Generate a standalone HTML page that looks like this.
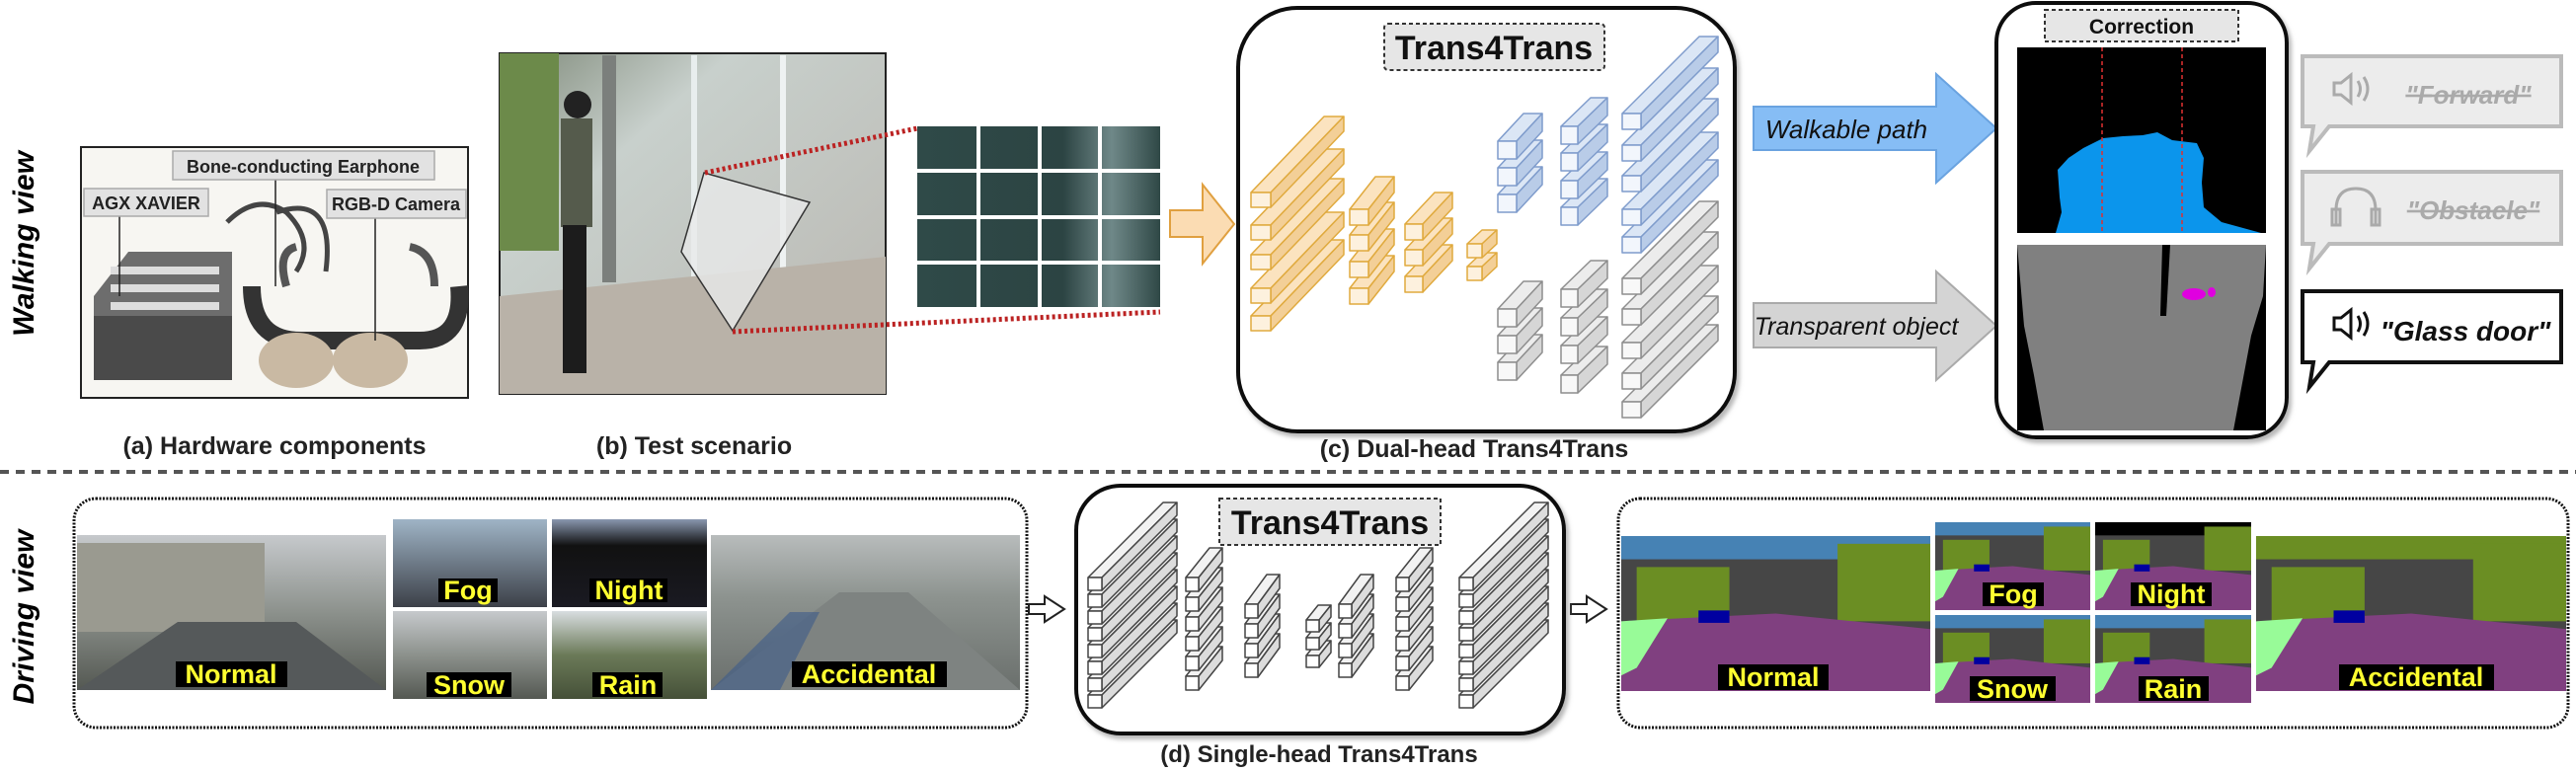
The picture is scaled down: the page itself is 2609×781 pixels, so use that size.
<!DOCTYPE html>
<html><head><meta charset="utf-8"><style>
html,body{margin:0;padding:0;background:#fff;}
svg{display:block;font-family:"Liberation Sans",sans-serif;}
</style></head><body>
<svg id="s" width="2609" height="781" viewBox="0 0 2609 781" xmlns="http://www.w3.org/2000/svg">
<defs>
<linearGradient id="gb" x1="0" y1="0" x2="1" y2="1"><stop offset="0" stop-color="#7f8a7a"/><stop offset="0.3" stop-color="#c8d0cc"/><stop offset="1" stop-color="#b9b6b0"/></linearGradient>
<linearGradient id="grid" x1="0" y1="0" x2="1" y2="0"><stop offset="0" stop-color="#2f4a48"/><stop offset="0.6" stop-color="#2c4443"/><stop offset="0.8" stop-color="#6f8888"/><stop offset="1" stop-color="#2f4846"/></linearGradient>
<linearGradient id="sky" x1="0" y1="0" x2="0" y2="1"><stop offset="0" stop-color="#c6c9cc"/><stop offset="0.5" stop-color="#8c918c"/><stop offset="1" stop-color="#545852"/></linearGradient>
<linearGradient id="nig" x1="0" y1="0" x2="0" y2="1"><stop offset="0" stop-color="#8a98b0"/><stop offset="0.3" stop-color="#111"/><stop offset="1" stop-color="#1a1a22"/></linearGradient>
<linearGradient id="fog" x1="0" y1="0" x2="0" y2="1"><stop offset="0" stop-color="#9fb4c6"/><stop offset="1" stop-color="#3c4048"/></linearGradient>
<linearGradient id="rain" x1="0" y1="0" x2="0" y2="1"><stop offset="0" stop-color="#d8dde0"/><stop offset="0.5" stop-color="#6b7a58"/><stop offset="1" stop-color="#455038"/></linearGradient>
<linearGradient id="acc" x1="0" y1="0" x2="0" y2="1"><stop offset="0" stop-color="#b8bcbc"/><stop offset="0.4" stop-color="#8d938f"/><stop offset="1" stop-color="#6a6f6c"/></linearGradient>
<filter id="sh"><feDropShadow dx="3" dy="4" stdDeviation="2" flood-color="#888" flood-opacity="0.6"/></filter>
</defs>

<text transform="translate(34,247) rotate(-90)" text-anchor="middle" font-size="30" font-weight="bold" font-style="italic">Walking view</text>
<text transform="translate(34,625) rotate(-90)" text-anchor="middle" font-size="30" font-weight="bold" font-style="italic">Driving view</text>

<!-- (a) hardware -->
<rect x="82" y="149" width="392" height="254" fill="#f7f6f2" stroke="#222" stroke-width="2"/>
<path d="M230 225 q30-30 60-10 q30 30 10 60" fill="none" stroke="#444" stroke-width="5"/>
<path d="M280 215 q60-20 50 60" fill="none" stroke="#444" stroke-width="5"/>
<polygon points="130,255 235,255 235,370 95,385 95,300" fill="#6d6d6d"/>
<rect x="95" y="320" width="140" height="65" fill="#4a4a4a"/>
<rect x="112" y="270" width="110" height="8" fill="#ddd"/><rect x="112" y="288" width="110" height="8" fill="#ddd"/><rect x="112" y="306" width="110" height="8" fill="#ddd"/>
<path d="M255 290 q0 55 50 55 h120 q45 0 40-55" fill="none" stroke="#333" stroke-width="18"/>
<ellipse cx="300" cy="365" rx="38" ry="28" fill="#c9b9a3"/><ellipse cx="375" cy="365" rx="38" ry="28" fill="#c9b9a3"/>
<path d="M290 290 q-10-35 10-40" fill="none" stroke="#555" stroke-width="8"/><path d="M440 290 q0-35 -25-40" fill="none" stroke="#555" stroke-width="8"/>
<line x1="121" y1="219" x2="121" y2="300" stroke="#222" stroke-width="1.5"/>
<line x1="279" y1="182" x2="279" y2="290" stroke="#222" stroke-width="1.5"/>
<line x1="380" y1="221" x2="380" y2="345" stroke="#222" stroke-width="1.5"/>
<rect x="175" y="153" width="265" height="29" fill="#e2e2e2" stroke="#aaa" stroke-width="1.5"/>
<text x="307" y="175" text-anchor="middle" font-size="18" font-weight="bold" fill="#222">Bone-conducting Earphone</text>
<rect x="85" y="191" width="126" height="28" fill="#e2e2e2" stroke="#aaa" stroke-width="1.5"/>
<text x="148" y="212" text-anchor="middle" font-size="18" font-weight="bold" fill="#222">AGX XAVIER</text>
<rect x="331" y="192" width="141" height="29" fill="#e2e2e2" stroke="#aaa" stroke-width="1.5"/>
<text x="401" y="213" text-anchor="middle" font-size="18" font-weight="bold" fill="#222">RGB-D Camera</text>
<text x="278" y="460" text-anchor="middle" font-size="25" font-weight="bold" fill="#222">(a) Hardware components</text>

<!-- (b) test scenario -->
<rect x="506" y="54" width="391" height="345" fill="url(#gb)" stroke="#222" stroke-width="2"/>
<rect x="506" y="54" width="60" height="200" fill="#6c8a4a"/>
<rect x="610" y="56" width="14" height="230" fill="#7b7f7c"/>
<rect x="700" y="56" width="6" height="340" fill="#e8eeee"/><rect x="790" y="56" width="6" height="340" fill="#eef2f2"/>
<polygon points="506,300 897,260 897,399 506,399" fill="#b9b2a8"/>
<circle cx="585" cy="106" r="14" fill="#222"/>
<rect x="568" y="120" width="32" height="110" fill="#555b4c"/>
<rect x="570" y="228" width="24" height="150" fill="#1c1c1c"/>
<polygon points="713,175 820,205 742,335 690,255" fill="#e8eaea" fill-opacity="0.8" stroke="#333" stroke-width="1.5"/>
<line x1="714" y1="175" x2="929" y2="130" stroke="#b22" stroke-width="5" stroke-dasharray="3,3"/>
<line x1="742" y1="336" x2="1175" y2="316" stroke="#b22" stroke-width="5" stroke-dasharray="3,3"/>
<text x="703" y="460" text-anchor="middle" font-size="25" font-weight="bold" fill="#222">(b) Test scenario</text>

<rect x="929" y="128" width="246" height="183" fill="url(#grid)"/>
<g stroke="#fff" stroke-width="4">
<line x1="991" y1="128" x2="991" y2="311"/><line x1="1053" y1="128" x2="1053" y2="311"/><line x1="1114" y1="128" x2="1114" y2="311"/>
<line x1="929" y1="173" x2="1175" y2="173"/><line x1="929" y1="220" x2="1175" y2="220"/><line x1="929" y1="266" x2="1175" y2="266"/>
</g>
<polygon points="1185,213 1218,213 1218,187 1250,227 1218,267 1218,240 1185,240" fill="#fbdcb3" stroke="#e0a040" stroke-width="2"/>

<!-- (c) box -->
<rect x="1254" y="8" width="503" height="429" rx="60" fill="#fff" stroke="#111" stroke-width="4" filter="url(#sh)"/>
<rect x="1402" y="24" width="223" height="47" rx="4" fill="#e6e6e6" stroke="#333" stroke-width="2" stroke-dasharray="4,3"/>
<text x="1513" y="60" text-anchor="middle" font-size="34" font-weight="bold" fill="#111">Trans4Trans</text>
<g id="barsC"></g>
<text x="1493" y="463" text-anchor="middle" font-size="25" font-weight="bold" fill="#222">(c) Dual-head Trans4Trans</text>

<polygon points="1776,108 1961,108 1961,75 2022,130 1961,185 1961,152 1776,152" fill="#86bdf5" stroke="#6aa3e0" stroke-width="2"/>
<text x="1870" y="140" text-anchor="middle" font-size="26" font-style="italic" fill="#111">Walkable path</text>
<polygon points="1776,307 1961,307 1961,275 2022,330 1961,385 1961,352 1776,352" fill="#d4d4d4" stroke="#aaa" stroke-width="2"/>
<text x="1880" y="339" text-anchor="middle" font-size="25" font-style="italic" fill="#111">Transparent object</text>

<!-- correction box -->
<rect x="2022" y="3" width="294" height="440" rx="40" fill="#fff" stroke="#111" stroke-width="4" filter="url(#sh)"/>
<rect x="2071" y="10" width="196" height="32" fill="#e6e6e6" stroke="#333" stroke-width="2" stroke-dasharray="4,3"/>
<text x="2169" y="34" text-anchor="middle" font-size="21" font-weight="bold" fill="#111">Correction</text>
<rect x="2043" y="48" width="252" height="188" fill="#000"/>
<path d="M2082 236 L2088 215 2086 200 2084 172 2095 160 2110 150 2130 140 2150 138 2170 137 2185 134 2200 142 2225 145 2232 160 2230 185 2232 210 2250 225 2290 236 Z" fill="#0b95ec"/>
<line x1="2129" y1="48" x2="2129" y2="236" stroke="#e03030" stroke-width="1.5" stroke-dasharray="4,3"/>
<line x1="2210" y1="48" x2="2210" y2="236" stroke="#e03030" stroke-width="1.5" stroke-dasharray="4,3"/>
<rect x="2043" y="248" width="252" height="188" fill="#000"/>
<polygon points="2043,248 2295,248 2292,300 2280,340 2262,436 2070,436 2060,380 2050,330" fill="#808080"/>
<polygon points="2190,248 2198,248 2194,320 2188,320" fill="#000"/>
<ellipse cx="2222" cy="298" rx="12" ry="6" fill="#e000e0"/>
<ellipse cx="2240" cy="296" rx="4" ry="5" fill="#e000e0"/>
<g fill="#ececec" stroke="#bbb" stroke-width="4">
<path d="M2332 57 h262 v71 h-235 l-20 25 l4 -25 h-11 z"/>
<path d="M2332 174 h262 v73 h-235 l-20 25 l4 -25 h-11 z"/>
</g>
<path d="M2332 295 h262 v72 h-235 l-20 25 l4 -25 h-11 z" fill="#fff" stroke="#111" stroke-width="4"/>
<g fill="none" stroke="#aaa" stroke-width="3"><path d="M2364 84 h7 l10 -8 v28 l-10 -8 h-7 z M2388 82 q5 8 0 16 M2394 78 q8 12 0 24"/></g>
<text x="2500" y="105" text-anchor="middle" font-size="26" font-weight="bold" font-style="italic" fill="#aaa" text-decoration="line-through">"Forward"</text>
<g fill="none" stroke="#aaa" stroke-width="3"><path d="M2366 228 v-15 q0-22 20-22 q20 0 20 22 v15 M2362 212 h8 v16 h-8 z M2402 212 h8 v16 h-8 z"/></g>
<text x="2505" y="222" text-anchor="middle" font-size="26" font-weight="bold" font-style="italic" fill="#aaa" text-decoration="line-through">"Obstacle"</text>
<g fill="none" stroke="#111" stroke-width="3"><path d="M2364 322 h7 l10 -8 v28 l-10 -8 h-7 z M2388 320 q5 8 0 16 M2394 316 q8 12 0 24"/></g>
<text x="2497" y="345" text-anchor="middle" font-size="28" font-weight="bold" font-style="italic" fill="#111">"Glass door"</text>

<line x1="0" y1="478" x2="2609" y2="478" stroke="#555" stroke-width="4" stroke-dasharray="9,7"/>

<rect x="75" y="505" width="965" height="232" rx="22" fill="none" stroke="#111" stroke-width="3" stroke-dasharray="2,1.5"/>
<rect x="78" y="542" width="313" height="157" fill="url(#sky)"/>
<rect x="78" y="550" width="190" height="90" fill="#9a9a90"/>
<polygon points="78,699 391,699 300,630 180,630" fill="#55595a"/>
<rect x="398" y="526" width="156" height="89" fill="url(#fog)"/>
<rect x="559" y="526" width="157" height="89" fill="url(#nig)"/>
<rect x="398" y="619" width="156" height="89" fill="url(#sky)"/>
<rect x="559" y="619" width="157" height="89" fill="url(#rain)"/>
<rect x="720" y="542" width="313" height="157" fill="url(#acc)"/>
<polygon points="720,699 1033,699 920,600 850,600" fill="#7e8381"/>
<polygon points="720,699 790,699 830,620 800,620" fill="#3d5c8a" opacity="0.6"/>
<g font-size="27" font-weight="bold" fill="#ffff30" text-anchor="middle">
<rect x="178" y="670" width="113" height="26" fill="#000"/><text x="234" y="692">Normal</text>
<rect x="444" y="586" width="60" height="24" fill="#000"/><text x="474" y="607">Fog</text>
<rect x="597" y="586" width="79" height="24" fill="#000"/><text x="637" y="607">Night</text>
<rect x="432" y="681" width="86" height="25" fill="#000"/><text x="475" y="703">Snow</text>
<rect x="600" y="681" width="71" height="25" fill="#000"/><text x="636" y="703">Rain</text>
<rect x="802" y="670" width="157" height="26" fill="#000"/><text x="880" y="692">Accidental</text>
</g>
<polygon points="1042,612 1058,612 1058,604 1078,617 1058,630 1058,622 1042,622" fill="#fff" stroke="#222" stroke-width="2"/>
<polygon points="1591,612 1607,612 1607,604 1627,617 1607,630 1607,622 1591,622" fill="#fff" stroke="#222" stroke-width="2"/>

<rect x="1090" y="492" width="494" height="251" rx="45" fill="#fff" stroke="#111" stroke-width="4" filter="url(#sh)"/>
<rect x="1235" y="505" width="224" height="47" fill="#e6e6e6" stroke="#333" stroke-width="2" stroke-dasharray="4,3"/>
<text x="1347" y="541" text-anchor="middle" font-size="34" font-weight="bold" fill="#111">Trans4Trans</text>
<g id="barsD"></g>
<text x="1336" y="772" text-anchor="middle" font-size="24" font-weight="bold" fill="#222">(d) Single-head Trans4Trans</text>

<rect x="1639" y="505" width="962" height="232" rx="22" fill="none" stroke="#111" stroke-width="3" stroke-dasharray="2,1.5"/>
<g id="seg"></g>
<g font-size="27" font-weight="bold" fill="#ffff30" text-anchor="middle">
<rect x="1740" y="673" width="112" height="26" fill="#000"/><text x="1796" y="695">Normal</text>
<rect x="2008" y="590" width="62" height="24" fill="#000"/><text x="2039" y="611">Fog</text>
<rect x="2158" y="590" width="82" height="24" fill="#000"/><text x="2199" y="611">Night</text>
<rect x="1995" y="685" width="87" height="25" fill="#000"/><text x="2038" y="707">Snow</text>
<rect x="2166" y="685" width="71" height="25" fill="#000"/><text x="2201" y="707">Rain</text>
<rect x="2369" y="673" width="157" height="26" fill="#000"/><text x="2447" y="695">Accidental</text>
</g>
</svg>
<script>
var NS="http://www.w3.org/2000/svg";
function poly(g,pts,fill,stroke){var p=document.createElementNS(NS,"polygon");p.setAttribute("points",pts.map(function(a){return a.join(",")}).join(" "));p.setAttribute("fill",fill);p.setAttribute("stroke",stroke);p.setAttribute("stroke-width","1.5");p.setAttribute("stroke-linejoin","round");g.appendChild(p);}
function bar(g,x,y,w,h,dx,dy,c){
 poly(g,[[x,y],[x+dx,y-dy],[x+w+dx,y-dy],[x+w,y]],c[0],c[3]);
 poly(g,[[x+w,y],[x+w+dx,y-dy],[x+w+dx,y+h-dy],[x+w,y+h]],c[1],c[3]);
 poly(g,[[x,y],[x+w,y],[x+w,y+h],[x,y+h]],c[2],c[3]);
}
function col(g,x,ys,w,h,dx,dy,c){for(var i=ys.length-1;i>=0;i--)bar(g,x,ys[i],w,h,dx,dy,c);}
var O=["#fbe3bf","#f3cf97","#fdf1de","#e0aa3e"],B=["#dbe6f5","#b9cce8","#f2f6fc","#7f9ccc"],G=["#ececec","#d6d6d6","#f8f8f8","#8e8e8e"],W=["#f2f2f2","#dcdcdc","#fff","#444"];
var c=document.getElementById("barsC");
col(c,1643,[115,147,178,212,240],19,16,78,78,B);
col(c,1581,[128,155,183,210],17,18,30,29,B);
col(c,1517,[143,170,197],19,18,26,28,B);
col(c,1643,[282,313,347,378,407],19,16,78,78,G);
col(c,1581,[293,322,350,380],17,18,30,29,G);
col(c,1517,[313,340,367],19,18,26,28,G);
col(c,1267,[195,228,258,292,320],20,15,74,77,O);
col(c,1367,[212,238,265,292],19,16,26,33,O);
col(c,1423,[227,253,280],18,16,30,32,O);
col(c,1486,[247,270],15,14,15,14,O);
var d=document.getElementById("barsD");
col(d,1478,[585,602,619,636,653,670,687,704],14,13,76,76,W);
col(d,1414,[585,605,625,645,665,685],13,14,24,30,W);
col(d,1356,[612,632,652,672],13,14,22,30,W);
col(d,1323,[628,646,664],13,12,12,15,W);
col(d,1261,[612,632,652,672],13,14,22,30,W);
col(d,1201,[585,605,625,645,665,685],13,14,24,30,W);
col(d,1102,[585,602,619,636,653,670,687,704],14,13,76,76,W);
var s=document.getElementById("seg");
function seg(x,y,w,h,sky){
 var r=function(a,b,cw,ch,f){var e=document.createElementNS(NS,"rect");e.setAttribute("x",a);e.setAttribute("y",b);e.setAttribute("width",cw);e.setAttribute("height",ch);e.setAttribute("fill",f);s.appendChild(e);};
 r(x,y,w,h,"#464646");
 r(x,y,w,h*0.15,sky);
 r(x+w*0.05,y+h*0.2,w*0.3,h*0.35,"#6b8e23");
 r(x+w*0.7,y+h*0.05,w*0.3,h*0.5,"#6b8e23");
 poly(s,[[x,y+h],[x,y+h*0.55],[x+w*0.5,y+h*0.5],[x+w,y+h*0.6],[x+w,y+h]],"#804080","none");
 poly(s,[[x,y+h*0.55],[x+w*0.15,y+h*0.53],[x+w*0.05,y+h*0.85],[x,y+h*0.9]],"#98fb98","none");
 r(x+w*0.25,y+h*0.48,w*0.1,h*0.08,"#0000a0");
}
seg(1642,543,313,157,"#4682b4");
seg(1960,529,157,89,"#4682b4");
seg(2122,529,158,89,"#000");
seg(1960,623,157,89,"#4682b4");
seg(2122,623,158,89,"#4682b4");
seg(2285,543,314,157,"#6b8e23");
</script>
</body></html>
